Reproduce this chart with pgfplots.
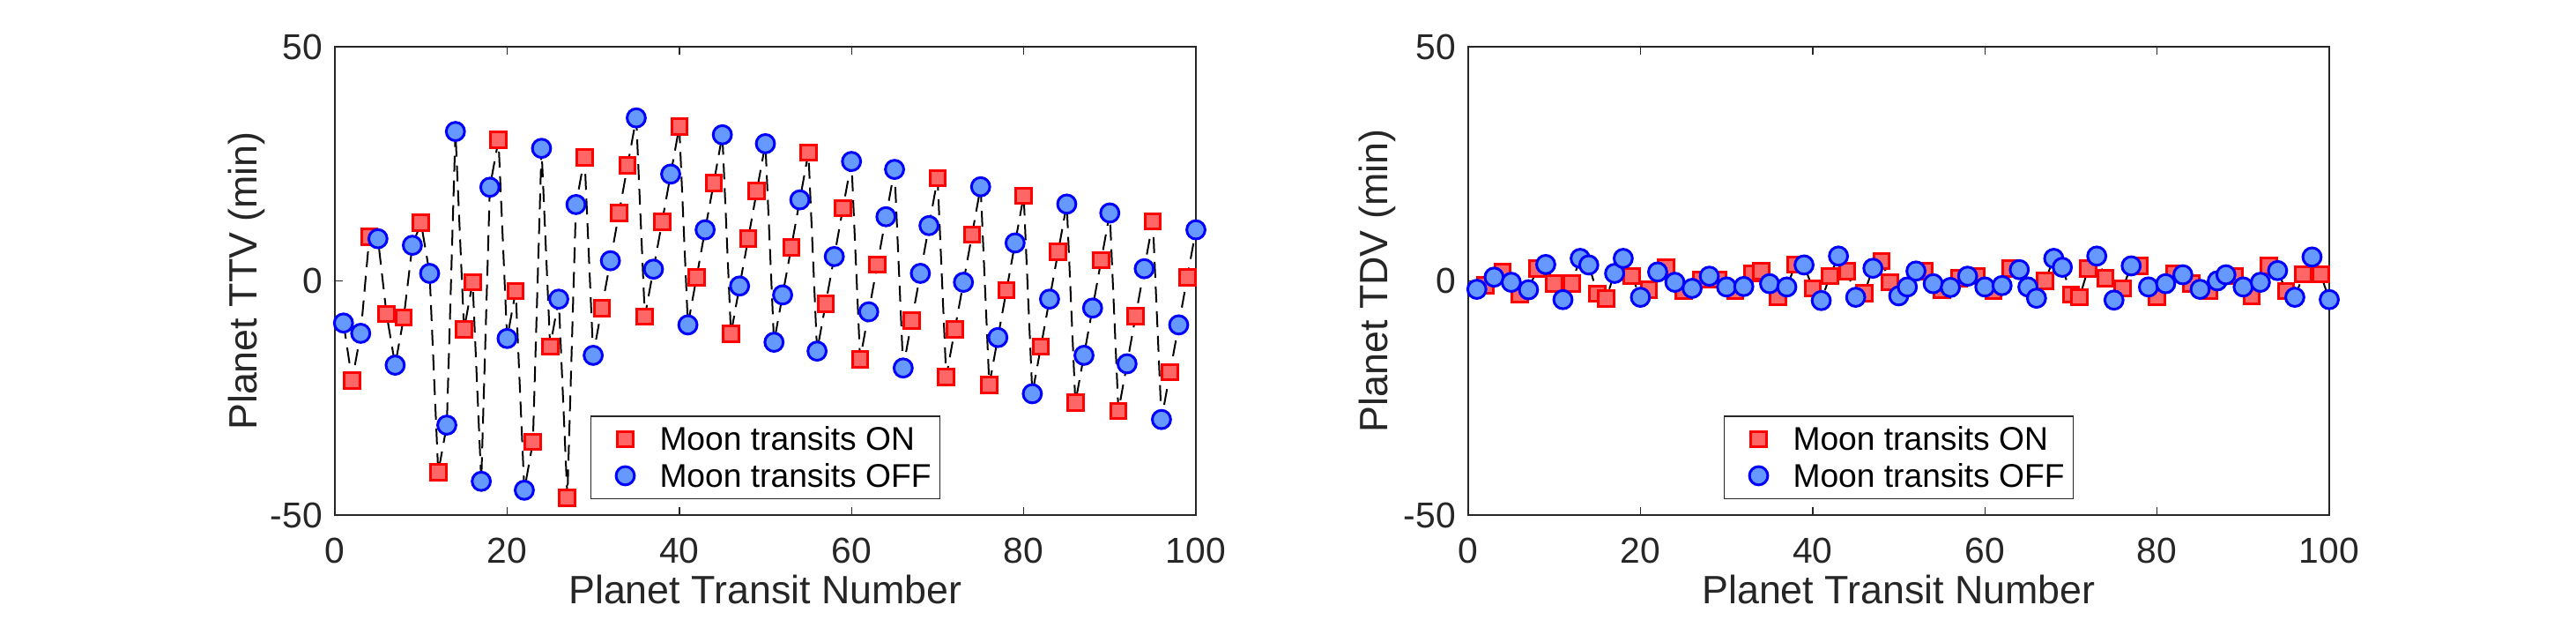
\documentclass[border=0pt]{standalone}
\usepackage{fontspec}
\setmainfont{Liberation Sans}
\usepackage{pgfplots}
\usepackage{pgfplotstable}
\pgfplotsset{compat=1.18}

\definecolor{onfill}{rgb}{1,0.4,0.4}
\definecolor{offfill}{rgb}{0.4,0.6,1}
\definecolor{axgray}{rgb}{0.15,0.15,0.15}

% transit number, timing variation, duration variation (min), moon transit flag
\pgfplotstableread{
n ttv tdv on
1 -9.0 -1.8 0
2 -21.3 -1.0 1
3 -11.2 0.8 0
4 9.4 1.9 1
5 9.0 -0.3 0
6 -7.1 -2.9 1
7 -18.0 -1.9 0
8 -7.8 2.6 1
9 7.6 3.5 0
10 12.4 -0.6 1
11 1.6 -4.0 0
12 -40.9 -0.6 1
13 -30.8 4.8 0
14 31.9 3.4 0
15 -10.4 -2.7 1
16 -0.3 -3.8 1
17 -42.8 1.6 0
18 20.0 4.8 0
19 30.1 1.0 1
20 -12.3 -3.5 0
21 -2.2 -1.9 1
22 -44.7 1.9 0
23 -34.4 2.9 1
24 28.3 -0.3 0
25 -14.0 -2.2 1
26 -3.9 -1.6 0
27 -46.3 0.3 1
28 16.3 1.0 0
29 26.4 0.3 1
30 -15.9 -1.3 0
31 -5.8 -2.2 1
32 4.3 -1.2 0
33 14.5 1.6 1
34 24.7 2.1 1
35 34.8 -0.6 0
36 -7.6 -3.5 1
37 2.5 -1.3 0
38 12.6 3.5 1
39 22.8 3.4 0
40 32.9 -1.6 1
41 -9.4 -4.2 0
42 0.7 1.0 1
43 10.9 5.3 0
44 20.9 2.1 1
45 31.2 -3.5 0
46 -11.3 -2.6 1
47 -1.1 2.7 0
48 9.0 4.2 1
49 19.2 -0.3 1
50 29.3 -3.2 0
51 -13.1 -1.3 0
52 -3.0 2.1 0
53 7.1 2.1 1
54 17.3 -0.6 0
55 27.4 -1.9 1
56 -15.0 -1.4 0
57 -4.9 0.6 1
58 5.2 1.0 0
59 15.5 1.0 1
60 25.5 -1.3 0
61 -16.8 -2.2 1
62 -6.6 -1.0 0
63 3.5 2.6 1
64 13.7 2.4 0
65 23.8 -1.3 0
66 -18.6 -3.7 0
67 -8.5 0.0 1
68 1.6 4.8 0
69 11.8 2.9 0
70 21.9 -2.9 1
71 -20.5 -3.5 1
72 -10.4 2.6 1
73 -0.3 5.3 0
74 9.9 0.6 1
75 20.1 -4.1 0
76 -22.2 -1.6 1
77 -12.1 3.2 0
78 -2.0 3.2 1
79 8.1 -1.3 0
80 18.2 -3.5 1
81 -24.1 -0.6 0
82 -14.0 1.6 1
83 -3.9 1.3 0
84 6.2 -0.6 1
85 16.4 -1.8 0
86 -26.0 -2.2 1
87 -15.9 0.0 0
88 -5.8 1.3 0
89 4.4 1.0 1
90 14.5 -1.3 0
91 -27.8 -3.2 1
92 -17.7 -0.3 0
93 -7.5 3.2 1
94 2.6 2.2 0
95 12.7 -2.2 1
96 -29.6 -3.5 0
97 -19.5 1.4 1
98 -9.4 5.1 0
99 0.8 1.4 1
100 10.9 -4.0 0
}\transits

\pgfplotsset{
  transitaxis/.style={
    scale only axis, width=244.25pt, height=132.75pt,
    xmin=0, xmax=100, ymin=-50, ymax=50,
    clip=false,
    xtick={0,20,40,60,80,100}, xticklabels={0,20,40,60,80,100},
    ytick={-50,0,50}, yticklabels={-50,0,50},
    axis line style={axgray, line width=0.35pt},
    tick style={axgray, line width=0.35pt},
    major tick length=2.3pt,
    ticklabel style={font=\fontsize{10.2}{12}\selectfont, text=axgray},
    xticklabel style={yshift=-3pt},
    label style={font=\fontsize{11.2}{13}\selectfont, text=axgray},
    xlabel={Planet Transit Number},
    xlabel style={at={(axis description cs:0.5,-0.16)}, anchor=center},
    legend cell align=left,
    legend image code/.code={
      \path[draw=none, fill=none] (0pt,-3pt) rectangle (14.5pt,3pt);
      \draw[##1] plot coordinates {(7.25pt,0pt)};
    },
    legend style={at={(0.5,0.034)}, anchor=south,
      draw=axgray, line width=0.35pt,
      font=\fontsize{9.3}{10.4}\selectfont,
      inner xsep=2.5pt, inner ysep=2.2pt,
      row sep=1.9pt, column sep=2.5pt,
      nodes={inner xsep=0pt, inner ysep=0pt, text height=7.5pt, text depth=1pt}},
  },
  onmarks/.style={only marks, mark=square*, mark size=2.2pt,
    mark options={draw=red, fill=onfill, line width=0.75pt, solid}},
  offmarks/.style={only marks, mark=*, mark size=2.6pt,
    mark options={draw=blue, fill=offfill, line width=0.75pt, solid}},
  linkline/.style={black, line width=0.5pt, dash pattern=on 4.5pt off 2.5pt,
    mark=none, forget plot},
}

\begin{document}
\begin{tikzpicture}
\path[use as bounding box] (0pt,0pt) rectangle (730.75pt,175.75pt);

% timing variations
\begin{axis}[transitaxis, at={(95pt,29.75pt)}, anchor=south west,
  ylabel={Planet TTV (min)},
  ylabel style={at={(axis description cs:-0.102,0.5)}, anchor=center}]
  \addplot[onmarks, restrict expr to domain={\thisrow{on}}{1:1}]
    table[x=n, y=ttv] {\transits};
  \addplot[offmarks, restrict expr to domain={\thisrow{on}}{0:0}]
    table[x=n, y=ttv] {\transits};
  \addplot[linkline] table[x=n, y=ttv] {\transits};
  \legend{Moon transits ON, Moon transits OFF}
\end{axis}

% duration variations
\begin{axis}[transitaxis, at={(416.5pt,29.75pt)}, anchor=south west,
  ylabel={Planet TDV (min)},
  ylabel style={at={(axis description cs:-0.106,0.5)}, anchor=center}]
  \addplot[onmarks, restrict expr to domain={\thisrow{on}}{1:1}]
    table[x=n, y=tdv] {\transits};
  \addplot[offmarks, restrict expr to domain={\thisrow{on}}{0:0}]
    table[x=n, y=tdv] {\transits};
  \addplot[linkline] table[x=n, y=tdv] {\transits};
  \legend{Moon transits ON, Moon transits OFF}
\end{axis}
\end{tikzpicture}
\end{document}
